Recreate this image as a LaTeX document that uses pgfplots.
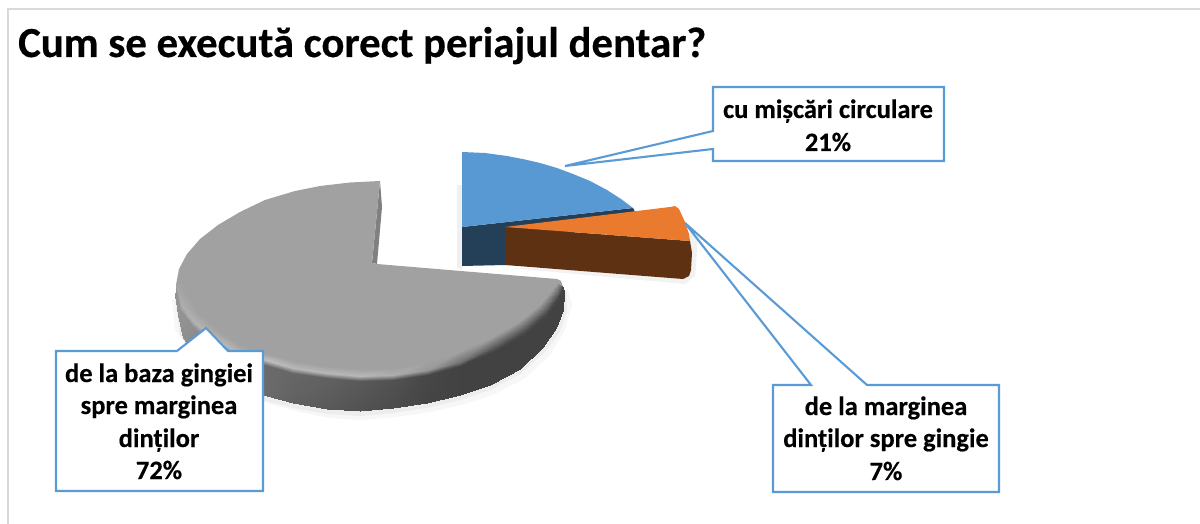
\documentclass[border=0pt]{standalone}
\usepackage{pgfplots}
\pgfplotsset{compat=1.18}
\usepackage{fontspec}
\setmainfont[BoldFeatures={FakeBold=0.4}]{Carlito}
\definecolor{frameg}{HTML}{D9D9D9}
\definecolor{callout}{HTML}{5B9BD5}
\definecolor{bluetop}{HTML}{5898D3}
\definecolor{blueside}{HTML}{243F58}
\definecolor{orangetop}{HTML}{E97A2E}
\definecolor{orangeside}{HTML}{5F3113}
\definecolor{graytop}{HTML}{A1A1A1}
\definecolor{grayface}{HTML}{808080}
\begin{document}
\begin{tikzpicture}
\begin{axis}[
  scale only axis, width=1200pt, height=524pt,
  xmin=0, xmax=1200, ymin=0, ymax=524, y dir=reverse,
  axis lines=none, clip=true, clip mode=individual,
  colormap={g}{gray(0cm)=(0); gray(1cm)=(1)},
  point meta min=0, point meta max=1,
]
% page background, which also fixes the picture's size
\addplot[fill=white, draw=none] coordinates {(0,0)(1200,0)(1200,524)(0,524)} --cycle;
% frame
\addplot[draw=frameg, line width=2pt] coordinates {(8,524)(8,9)(1200,9)};
% soft shadows
\addplot[fill=black!3, draw=none] coordinates {(172,300)(175,330)(190,350)(205,370)(235,388)(270,404)(300,412)(330,418)(362,420)(395,417)(430,412)(465,404)(495,394)(525,378)(550,355)(565,330)(572,305)(568,290)} --cycle;
\addplot[fill=black!7, draw=none] coordinates {(175,300)(180,335)(197,360)(225,384)(262,400)(293,408)(327,414)(360,416)(393,413)(427,408)(460,400)(490,390)(520,374)(545,352)(560,332)(567,312)(566,290)} --cycle;
\addplot[fill=black!6, draw=none] coordinates {(457,185)(462,185)(462,270)(457,268)} --cycle;
\addplot[fill=black!5, draw=none] coordinates {(510,268)(685,284)(695,276)(698,240)(690,230)(690,270)} --cycle;
% blue slice
\addplot[fill=blueside, draw=none] coordinates {(462,227)(633,208)(635,212)(505,250)(505,265)(462,266)} --cycle;
\addplot[fill=bluetop, draw=none] coordinates {(462,152)(485,153)(507,156)(525,159.5)(540,163)(557,168)(573,174)(590,181)(607,190)(621,199)(633,208)(462,227)} --cycle;
% orange slice
\addplot[fill=orangeside, draw=none] coordinates {(505,227)(690,241)(692,253)(691,270)(689,276)(683,279)(505,265)} --cycle;
\addplot[fill=orangetop, draw=none] coordinates {(505,227)(670,207)(675,206)(679,209)(685,222)(689,234)(690,241)} --cycle;
% grey slice: inner cut, top, rim and wall
\addplot[fill=grayface, draw=none] coordinates {(380,181)(382,207)(377,264)(372,263)} --cycle;
\addplot[fill=graytop, draw=none] coordinates {(380,181)(350,182.5)(320,186)(295,191)(265,200)(240,212)(218,225)(200,239)(187,254)(179,269)(176,285)(181,305)(193,321)(212,337)(236,352)(266,360)(293,368)(327,373)(360,376)(393,375)(427,370)(460,362)(495,347)(525,331)(547,313)(558,298)(563,287)(561,281)(557,279)(377,264)(372,263)} --cycle;
\addplot[surf, shader=interp, mesh/rows=17, mesh/cols=4, mesh/ordering=x varies, point meta=\thisrow{m}] table {
x y m
185 283 0.63
176 285 0.65
176 290 0.58
175 295 0.58

190 299 0.63
181 305 0.68
180 310 0.58
178 315 0.58

200 314 0.63
193 321 0.70
192 326 0.56
183 338 0.56

218 330 0.63
212 337 0.72
210 342 0.52
200 360 0.52

240 345 0.63
236 352 0.72
234 357 0.48
228 380 0.48

268 354 0.63
266 360 0.75
265 365 0.42
263 395 0.42

295 361 0.63
293 368 0.72
292 373 0.40
293 403 0.38

327 366 0.63
327 373 0.72
327 378 0.38
327 409 0.35

360 369 0.63
360 376 0.72
360 381 0.35
360 411 0.32

393 368 0.63
393 375 0.68
393 380 0.32
393 408 0.30

427 362 0.63
427 370 0.60
427 375 0.28
427 403 0.27

458 352 0.63
460 362 0.45
460 366 0.26
460 395 0.26

490 338 0.63
495 347 0.35
495 351 0.26
490 385 0.26

518 322 0.63
525 331 0.30
525 335 0.26
520 369 0.26

538 306 0.63
547 313 0.28
547 317 0.26
543 347 0.26

550 292 0.63
558 298 0.27
559 302 0.26
556 328 0.26

557 283 0.63
563 287 0.27
564 292 0.26
563 310 0.26
};
% callouts
\addplot[fill=white, draw=callout, line width=2.1pt] coordinates {(713,87)(944,87)(944,161)(713,161)(713,149)(565,166)(713,131)} --cycle;
\addplot[fill=white, draw=callout, line width=2.1pt] coordinates {(773,385)(811,385)(685,223)(867,385)(999,385)(999,492)(773,492)} --cycle;
\addplot[fill=white, draw=callout, line width=2.1pt] coordinates {(56,351)(177,351)(206,328)(228,351)(263,351)(263,491)(56,491)} --cycle;
% text
\node[anchor=base west, inner sep=0pt, font=\fontsize{42.8}{42.8}\selectfont\bfseries] at (axis cs:18,57) {Cum se execută corect periajul dentar?};
\begin{scope}[every node/.style={anchor=base, inner sep=0pt, font=\fontsize{26.5}{26.5}\selectfont\bfseries}]
\node at (axis cs:828,118) {cu mișcări circulare};
\node at (axis cs:828,151) {21\%};
\node at (axis cs:886,415) {de la marginea};
\node at (axis cs:886,447) {dinților spre gingie};
\node at (axis cs:886,480) {7\%};
\node at (axis cs:159,382) {de la baza gingiei};
\node at (axis cs:159,414) {spre marginea};
\node at (axis cs:159,447) {dinților};
\node at (axis cs:159,479) {72\%};
\end{scope}
\end{axis}
\end{tikzpicture}
\end{document}
